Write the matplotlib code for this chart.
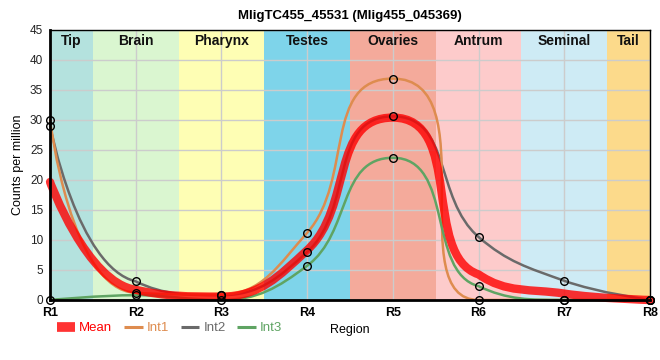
import numpy as np
import matplotlib
matplotlib.use('Agg')
import matplotlib.pyplot as plt
from matplotlib.path import Path
from matplotlib.patches import PathPatch
from matplotlib.lines import Line2D

plt.rcParams['font.family'] = ['Liberation Sans', 'DejaVu Sans']

regions = ['R1', 'R2', 'R3', 'R4', 'R5', 'R6', 'R7', 'R8']
int1 = [30.0, 1.2, 0.9, 11.2, 36.9, 0.0, 0.0, 0.0]
int2 = [29.0, 3.1, 0.8, 8.0, 30.6, 10.5, 3.2, 0.0]
int3 = [0.0, 0.8, 0.0, 5.7, 23.7, 2.3, 0.0, 0.0]
mean = list(np.mean([int1, int2, int3], axis=0))

bands = ['Tip', 'Brain', 'Pharynx', 'Testes', 'Ovaries', 'Antrum', 'Seminal', 'Tail']
band_colors = ['#b4e2de', '#daf6d0', '#fefeb4', '#7ed4ea', '#f4aa9b', '#fdcbcb', '#ceebf5', '#fcda8b']

# px per unit, used for the spline smoothing (highcharts style)
SX, SY = 85.7, 6.0

def spline_path(xs, ys, smoothing=1.5):
    px = np.array(xs, float) * SX
    py = np.array(ys, float) * SY
    n = len(px)
    lc = [None] * n
    rc = [None] * n
    for i in range(1, n - 1):
        x, y = px[i], py[i]
        lx, ly, nx, ny = px[i-1], py[i-1], px[i+1], py[i+1]
        d = smoothing + 1
        lcx = (smoothing * x + lx) / d
        lcy = (smoothing * y + ly) / d
        rcx = (smoothing * x + nx) / d
        rcy = (smoothing * y + ny) / d
        dl = np.hypot(lcx - x, lcy - y)
        dr = np.hypot(rcx - x, rcy - y)
        la = np.arctan2(lcy - y, lcx - x)
        ra = np.arctan2(rcy - y, rcx - x)
        ja = np.pi / 2 + (la + ra) / 2
        if abs(la - ja) > np.pi / 2:
            ja -= np.pi
        lcx = x + np.cos(ja) * dl
        lcy = y + np.sin(ja) * dl
        rcx = x + np.cos(np.pi + ja) * dr
        rcy = y + np.sin(np.pi + ja) * dr
        if lcy > ly and lcy > y:
            lcy = max(ly, y); rcy = 2 * y - lcy
        elif lcy < ly and lcy < y:
            lcy = min(ly, y); rcy = 2 * y - lcy
        if rcy > ny and rcy > y:
            rcy = max(ny, y); lcy = 2 * y - rcy
        elif rcy < ny and rcy < y:
            rcy = min(ny, y); lcy = 2 * y - rcy
        lc[i] = (lcx, lcy)
        rc[i] = (rcx, rcy)
    verts = [(px[0], py[0])]
    codes = [Path.MOVETO]
    for i in range(1, n):
        c1 = rc[i-1] if rc[i-1] is not None else (px[i-1], py[i-1])
        c2 = lc[i] if lc[i] is not None else (px[i], py[i])
        verts += [c1, c2, (px[i], py[i])]
        codes += [Path.CURVE4] * 3
    verts = np.array(verts) / [SX, SY]
    return Path(verts, codes)

fig = plt.figure(figsize=(6.6, 3.6), dpi=100)
ax = fig.add_axes([0.0758, 0.1667, 0.909, 0.75])

xs = np.arange(len(regions))
for i, (b, c) in enumerate(zip(bands, band_colors)):
    ax.axvspan(max(i - 0.5, 0), min(i + 0.5, len(regions) - 1), color=c, lw=0, zorder=0)
    ax.text((max(i - 0.5, 0) + min(i + 0.5, len(regions) - 1)) / 2, 44.3, b,
            ha='center', va='top', fontsize=10, fontweight='bold', color='#111111', zorder=5)

ax.set_xlim(0, len(regions) - 1)
ax.set_ylim(0, 45)
ax.set_yticks(np.arange(0, 46, 5))
ax.set_xticks(xs)
ax.set_xticklabels(regions, fontweight='bold', fontsize=9)
ax.tick_params(axis='y', labelsize=8.5, length=0, pad=5, colors='#222222')
ax.tick_params(axis='x', length=0, pad=5)
ax.grid(True, color='#cccccc', lw=1, zorder=1)
ax.set_axisbelow(True)
for s in ['top', 'right']:
    ax.spines[s].set_linewidth(1)
for s in ['left', 'bottom']:
    ax.spines[s].set_linewidth(2)
for sp in ax.spines.values():
    sp.set_zorder(6)

series = [('Mean', mean, '#ff0000', 6, 0.8),
          ('Int1', int1, '#de8c4f', 1.8, 1.0),
          ('Int2', int2, '#6a6a6a', 1.8, 1.0),
          ('Int3', int3, '#5fa463', 1.8, 1.0)]
zs = {'Mean': 4, 'Int1': 3, 'Int2': 2, 'Int3': 3}
handles = []
for name, vals, col, lw, al in series:
    p = PathPatch(spline_path(xs, vals), fill=False, edgecolor=col, lw=lw, alpha=al,
                  zorder=zs[name], clip_on=False, capstyle='round', joinstyle='round')
    ax.add_patch(p)
    if name != 'Mean':
        ax.plot(xs, vals, 'o', ms=5.5, mfc='none', mec='black', mew=1, zorder=7, clip_on=False)
    handles.append(Line2D([], [], color=col, lw=(7 if name == 'Mean' else 2.2), alpha=al,
                          solid_capstyle='butt', label=name))

ax.set_ylabel('Counts per million', fontsize=9, labelpad=4)
ax.set_title('MligTC455_45531 (Mlig455_045369)', fontsize=9.5, fontweight='bold', pad=8)
ax.set_xlabel('Region', fontsize=9, labelpad=4)
leg = fig.legend(handles=handles, loc='center left', bbox_to_anchor=(0.068, 0.088), ncol=4,
                 frameon=False, fontsize=9.5, handlelength=1.4, handletextpad=0.3,
                 columnspacing=0.9, labelcolor='linecolor')

plt.savefig('out.png', dpi=100)
plt.close()
